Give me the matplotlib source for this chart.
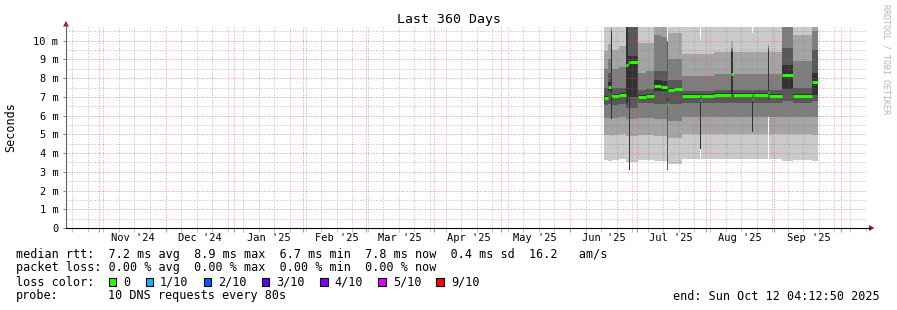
import matplotlib
matplotlib.use('Agg')
import matplotlib.pyplot as plt
import matplotlib.dates as mdates
from matplotlib.patches import Polygon, Rectangle
from matplotlib.lines import Line2D
import pandas as pd

W, H = 897, 310
MONO = 'DejaVu Sans Mono'

start = pd.Timestamp('2024-10-17 04:12:50')
end = pd.Timestamp('2025-10-12 04:12:50')

# step starts (values hold until next date), smoke = 10 sorted pings
dates = ['2025-06-16 12:00', '2025-06-18 06:00', '2025-06-19 06:00', '2025-06-19 18:00',
         '2025-06-23 00:00', '2025-06-26 06:00', '2025-06-27 00:00', '2025-06-27 12:00',
         '2025-06-28 00:00', '2025-07-01 12:00', '2025-07-05 00:00', '2025-07-09 00:00',
         '2025-07-12 00:00', '2025-07-14 18:00', '2025-07-15 06:00', '2025-07-18 00:00',
         '2025-07-21 12:00', '2025-07-29 12:00', '2025-07-30 00:00', '2025-08-05 00:00',
         '2025-08-12 12:00', '2025-08-13 12:00', '2025-08-22 00:00', '2025-08-22 12:00',
         '2025-08-29 00:00', '2025-08-29 12:00', '2025-09-04 12:00', '2025-09-09 12:00',
         '2025-09-18 00:00']
data_end = '2025-09-20 18:00'

median = [6.95, 7.55, 7.1, 7.05, 7.1, 8.7, 8.8, 8.85, 8.85, 7.0, 7.05, 7.6,
          7.55, 6.7, 7.35, 7.4, 7.05, 6.85, 7.05, 7.1, 8.2, 7.1, 6.9, 7.1,
          7.25, 7.05, 8.15, 7.05, 7.8]
p1 = [3.65, 3.6, 3.6, 3.65, 3.7, 3.55, 3.55, 3.1, 3.55, 3.65, 3.65, 3.6,
      3.6, 3.1, 3.4, 3.4, 3.7, 4.2, 3.7, 3.7, 3.7, 3.7, 3.7, 3.7,
      5.9, 3.7, 3.6, 3.65, 3.6]
p2 = [4.95, 4.95, 4.9, 4.95, 5.0, 4.9, 4.9, 3.1, 4.9, 4.95, 4.95, 4.9,
      4.9, 3.1, 4.8, 4.8, 5.0, 4.2, 5.0, 5.0, 5.0, 5.0, 5.0, 5.0,
      5.9, 5.0, 5.0, 5.0, 4.95]
p3 = [5.85, 5.85, 5.8, 5.85, 5.9, 5.8, 5.8, 3.1, 5.8, 5.85, 5.85, 5.8,
      5.8, 3.1, 5.7, 5.7, 5.9, 4.2, 5.9, 5.9, 5.9, 5.9, 5.1, 5.9,
      5.9, 5.9, 5.9, 5.9, 5.9]
p4 = [6.55, 6.6, 5.8, 6.55, 6.6, 6.4, 6.4, 3.1, 6.4, 6.65, 6.65, 6.6,
      6.6, 3.1, 6.6, 6.6, 6.7, 4.2, 6.7, 6.7, 6.7, 6.7, 5.1, 6.7,
      6.7, 6.7, 6.8, 6.7, 6.8]
p5 = [6.85, 7.3, 5.8, 6.95, 7.0, 6.7, 7.0, 3.1, 7.0, 6.9, 6.95, 7.3,
      7.3, 6.6, 7.25, 7.3, 6.95, 4.2, 6.95, 7.0, 7.0, 7.0, 5.1, 7.0,
      6.9, 6.95, 7.4, 6.95, 7.1]
p6 = [7.05, 7.8, 10.4, 7.15, 7.2, 11.5, 9.2, 9.2, 9.2, 7.1, 7.15, 7.9,
      7.85, 7.0, 7.45, 7.5, 7.15, 7.0, 7.15, 7.2, 9.4, 7.2, 7.0, 7.2,
      9.5, 7.15, 8.7, 7.15, 8.3]
p7 = [7.45, 8.3, 10.5, 7.45, 7.5, 11.5, 11.5, 11.5, 11.5, 7.35, 7.4, 8.4,
      8.4, 10.0, 7.9, 7.9, 7.3, 7.3, 7.3, 7.35, 9.5, 7.35, 7.3, 7.35,
      9.6, 7.35, 9.6, 7.5, 9.5]
p8 = [8.5, 9.0, 10.6, 8.5, 8.6, 11.5, 11.5, 11.5, 11.5, 8.3, 8.4, 10.3,
      10.2, 10.0, 9.0, 9.0, 8.1, 8.1, 8.1, 8.2, 9.6, 8.2, 8.2, 8.2,
      9.7, 8.2, 11.5, 8.9, 10.5]
p9 = [9.45, 9.8, 11.5, 9.5, 9.7, 11.5, 11.5, 11.5, 11.5, 9.9, 9.9, 11.5,
      11.5, 10.0, 10.4, 10.4, 9.3, 9.3, 9.3, 9.4, 10.0, 9.4, 9.4, 9.4,
      9.8, 9.4, 11.5, 10.3, 11.5]
p10 = [11.5, 11.5, 11.5, 11.5, 11.5, 11.5, 11.5, 11.5, 11.5, 11.5, 11.5, 11.5,
       11.5, 10.0, 11.5, 11.5, 11.5, 10.1, 11.5, 11.5, 11.5, 11.5, 10.4, 11.5,
       11.5, 11.5, 11.5, 11.5, 11.5]

smoke_colors = ['#cacaca', '#a4a4a4', '#7e7e7e', '#585858', '#323232']
median_color = '#26ff00'

month_labels = ["Nov '24", "Dec '24", "Jan '25", "Feb '25", "Mar '25", "Apr '25",
                "May '25", "Jun '25", "Jul '25", "Aug '25", "Sep '25"]

rtt_line = "median rtt:  7.2 ms avg  8.9 ms max  6.7 ms min  7.8 ms now  0.4 ms sd  16.2   am/s"
loss_line = "packet loss: 0.00 % avg  0.00 % max  0.00 % min  0.00 % now"
loss_names = ['0', '1/10', '2/10', '3/10', '4/10', '5/10', '9/10']
loss_colors = ['#26ff00', '#00b8ff', '#0059ff', '#5e00ff', '#7e00ff', '#dd00ff', '#ff0000']
probe_text = "10 DNS requests every 80s"
end_text = "end: Sun Oct 12 04:12:50 2025"


def fx(x):
    return x / W


def fy(y):
    return 1 - y / H


fig = plt.figure(figsize=(W / 100, H / 100), dpi=100)
fig.patch.set_facecolor('white')

ax = fig.add_axes([fx(66), (H - 228) / H, 800 / W, 201 / H])
ax.set_facecolor('white')
ax.set_xlim(mdates.date2num(start), mdates.date2num(end))
ax.set_ylim(0, 201 / 18.73)

t = mdates.date2num(pd.to_datetime(dates + [data_end]))
pings = [p1, p2, p3, p4, p5, p6, p7, p8, p9, p10]
for i, col in enumerate(smoke_colors):
    lo = pings[i] + [pings[i][-1]]
    hi = pings[9 - i] + [pings[9 - i][-1]]
    ax.fill_between(t, lo, hi, step='post', color=col, lw=0, zorder=1)

ax.hlines(median, t[:-1], t[1:], colors=median_color, lw=2.2, zorder=5)

# grid (rrdtool draws it over the smoke)
minor_c = (0.45, 0.45, 0.45, 0.45)
major_c = (1.0, 0.3, 0.3, 0.6)
dot = (0, (1, 1.6))
gkw = dict(lw=0.72, ls=dot, zorder=3)
for v in [k * 0.5 for k in range(1, 22)]:
    if v % 1:
        ax.axhline(v, color=minor_c, **gkw)
for v in range(1, 11):
    ax.axhline(v, color=major_c, **gkw)
weeks = pd.date_range('2024-10-20', end, freq='7D')
months = pd.date_range('2024-11-01', end, freq='MS')
for d in weeks:
    if d not in months:
        ax.axvline(mdates.date2num(d), color=minor_c, **gkw)
for d in months:
    ax.axvline(mdates.date2num(d), color=major_c, **gkw)

for s in ['top', 'right']:
    ax.spines[s].set_visible(False)
ax.spines['left'].set_color('#666666')
ax.spines['bottom'].set_color('black')

ax.set_yticks(range(11))
ax.set_yticklabels(['0'] + ['%d m' % v for v in range(1, 11)], fontsize=7.5, family=MONO)
ax.tick_params(axis='y', length=2.5, width=0.72, color='#888888', pad=3)
ax.set_xticks(mdates.date2num(months))
ax.set_xticks(mdates.date2num(weeks), minor=True)
ax.tick_params(axis='x', which='major', length=3, width=0.72, color=(0.95, 0.45, 0.45), labelbottom=False)
ax.tick_params(axis='x', which='minor', length=3, width=0.72, color='#c0c0c0', labelbottom=False)

for m, lab in zip(months, month_labels):
    ax.annotate(lab, xy=(mdates.date2num(m + pd.Timedelta(days=15.25)), 0),
                xycoords=('data', 'axes fraction'), xytext=(0, -10),
                textcoords='offset pixels', ha='center', va='center',
                fontsize=7.5, family=MONO)

# axis extensions and arrows
arrow_c = '#9b1c1c'
fig.add_artist(Line2D([fx(66), fx(66)], [fy(27), fy(24)], color='#666666', lw=0.8))
fig.add_artist(Polygon([(fx(63), fy(26.5)), (fx(69), fy(26.5)), (fx(66), fy(21))],
                       closed=True, color=arrow_c, lw=0))
fig.add_artist(Line2D([fx(866), fx(870)], [fy(228), fy(228)], color='black', lw=0.8))
fig.add_artist(Polygon([(fx(869), fy(225)), (fx(869), fy(231)), (fx(874.5), fy(228))],
                       closed=True, color=arrow_c, lw=0))

fig.text(fx(448.5), fy(19), 'Last 360 Days', ha='center', va='center', fontsize=9.5, family=MONO)
fig.text(fx(11), fy(127), 'Seconds', ha='center', va='center', rotation=90, fontsize=8.5, family=MONO)
fig.text(fx(886), fy(59), 'RRDTOOL / TOBI OETIKER', ha='center', va='center', rotation=270,
         fontsize=6, color='#b4b4b4', family=MONO)

# legend
cw = 7.11
rows_y = [254.5, 268, 282, 296]
fig.text(fx(16), fy(rows_y[0]), rtt_line, ha='left', va='center', fontsize=8.5, family=MONO)
fig.text(fx(16), fy(rows_y[1]), loss_line, ha='left', va='center', fontsize=8.5, family=MONO)
fig.text(fx(16), fy(rows_y[2]), 'loss color:', ha='left', va='center', fontsize=8.5, family=MONO)
bx = 108.7
for name, col in zip(loss_names, loss_colors):
    fig.add_artist(Rectangle((fx(bx), fy(rows_y[2] + 4)), 7.5 / W, 8 / H, facecolor=col,
                             edgecolor='black', lw=0.8))
    tx = bx + 14.5
    fig.text(fx(tx), fy(rows_y[2]), name, ha='left', va='center', fontsize=8.5, family=MONO)
    bx = tx + (len(name) + 2) * cw + 1
fig.text(fx(16), fy(rows_y[3]), 'probe:', ha='left', va='center', fontsize=8.5, family=MONO)
fig.text(fx(16 + 13 * cw), fy(rows_y[3]), probe_text, ha='left', va='center', fontsize=8.5, family=MONO)
fig.text(fx(880), fy(rows_y[3]), end_text, ha='right', va='center', fontsize=8.5, family=MONO)

fig.savefig('out.png', dpi=100, facecolor='white')
